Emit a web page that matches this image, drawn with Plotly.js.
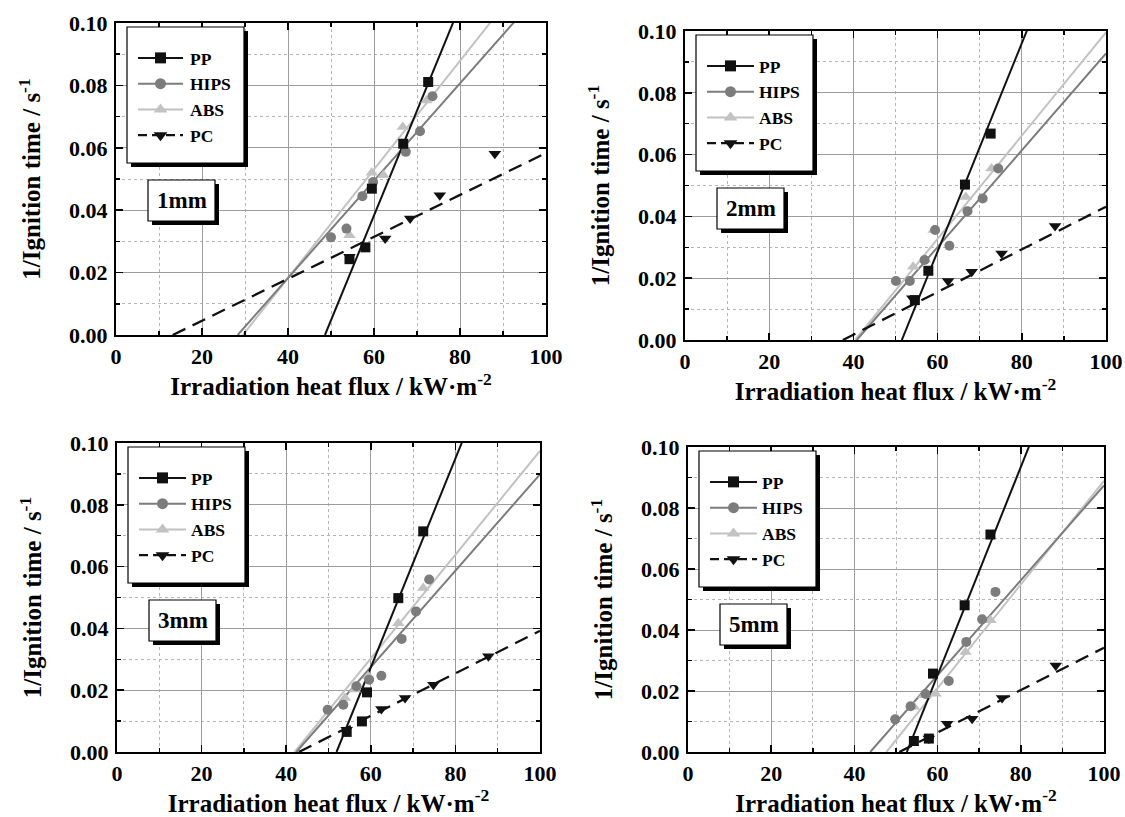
<!DOCTYPE html>
<html><head><meta charset="utf-8">
<script src="https://cdn.plot.ly/plotly-3.0.1.min.js"></script>
<style>html,body{margin:0;padding:0;background:#fff}</style>
</head><body><div id="chart" style="width:1125px;height:817px"></div>
<script>
// ---------- data ----------
const seriesNames = ['PP', 'HIPS', 'ABS', 'PC'];
const panelLabels = ['1mm', '2mm', '3mm', '5mm'];
const xTitle = 'Irradiation heat flux / kW·m<sup>-2</sup>';
const yTitle = '1/Ignition time / s<sup>-1</sup>';

// 1 mm
const pp1X = [54.3, 58.0, 59.5, 66.8, 72.6];
const pp1Y = [0.0243, 0.0281, 0.0469, 0.0613, 0.0811];
const hips1X = [50.0, 53.6, 57.3, 59.8, 67.4, 70.7, 73.6];
const hips1Y = [0.0313, 0.0341, 0.0445, 0.0490, 0.0587, 0.0653, 0.0765];
const abs1X = [54.3, 59.5, 62.2, 66.7, 72.2];
const abs1Y = [0.0320, 0.0520, 0.0512, 0.0667, 0.0752];
const pc1X = [54.3, 62.6, 68.4, 75.3, 88.1];
const pc1Y = [0.0251, 0.0309, 0.0373, 0.0448, 0.0581];
const fit1X0 = [48.6, 28.3, 29.5, 13.2];          // x-intercepts PP,HIPS,ABS,PC
const fit1K = [0.00336, 0.00156, 0.00174, 0.000672]; // slopes

// 2 mm
const pp2X = [54.6, 57.8, 66.5, 72.6];
const pp2Y = [0.0129, 0.0224, 0.0503, 0.0668];
const hips2X = [50.1, 53.4, 56.9, 59.4, 62.8, 67.1, 70.7, 74.4];
const hips2Y = [0.0191, 0.0191, 0.0259, 0.0356, 0.0305, 0.0417, 0.0458, 0.0555];
const abs2X = [54.2, 57.0, 59.1, 66.7, 72.8];
const abs2Y = [0.0237, 0.0260, 0.0356, 0.0463, 0.0555];
const pc2X = [54.0, 62.5, 68.1, 75.2, 87.9];
const pc2Y = [0.0135, 0.0191, 0.0221, 0.0280, 0.0369];
const fit2X0 = [51.5, 40.8, 40.4, 37.5];
const fit2K = [0.00337, 0.001566, 0.00167, 0.00069];

// 3 mm
const pp3X = [54.3, 57.9, 59.1, 66.5, 72.4];
const pp3Y = [0.0065, 0.0099, 0.0193, 0.0498, 0.0714];
const hips3X = [49.8, 53.5, 56.6, 59.6, 62.5, 67.3, 70.7, 73.8];
const hips3Y = [0.0137, 0.0153, 0.0213, 0.0234, 0.0247, 0.0366, 0.0455, 0.0558];
const abs3X = [53.9, 56.2, 59.4, 66.5, 72.4];
const abs3Y = [0.0175, 0.0202, 0.0245, 0.0417, 0.0531];
const pc3X = [54.3, 62.5, 68.1, 74.8, 87.8];
const pc3Y = [0.0072, 0.0139, 0.0175, 0.0218, 0.0310];
const fit3X0 = [51.9, 42.4, 42.0, 43.0];
const fit3K = [0.00338, 0.00156, 0.00168, 0.000688];

// 5 mm
const pp5X = [54.3, 57.9, 58.9, 66.5, 72.7];
const pp5Y = [0.0036, 0.0044, 0.0257, 0.0481, 0.0713];
const hips5X = [49.8, 53.5, 57.1, 62.7, 66.9, 70.7, 73.9];
const hips5Y = [0.0107, 0.0150, 0.0190, 0.0233, 0.0361, 0.0435, 0.0525];
const abs5X = [54.3, 56.7, 59.5, 66.7, 72.7];
const abs5Y = [0.0148, 0.0186, 0.0191, 0.0328, 0.0432];
const pc5X = [57.9, 62.3, 68.3, 75.5, 88.4];
const pc5Y = [0.0044, 0.0093, 0.0109, 0.0177, 0.0284];
const fit5X0 = [52.6, 43.8, 47.7, 50.8];
const fit5K = [0.00341, 0.001555, 0.00170, 0.000695];

// ---------- layout / styles ----------
const W = 1125, H = 817;
const FONT = 'Liberation Serif, Times New Roman, serif';
const styles = [
  {color: '#111111', symbol: 'square', size: 10, dash: 'solid', width: 2},
  {color: '#7c7c7c', symbol: 'circle', size: 10, dash: 'solid', width: 2},
  {color: '#c2c2c2', symbol: 'triangle-up', size: 11, dash: 'solid', width: 2},
  {color: '#111111', symbol: 'triangle-down', size: 11, dash: '14px,8px', width: 2.3}
];
// plot-area boxes in pixels: left, right, top, bottom
const boxes = [
  [116, 546, 23, 335],
  [685, 1106, 31, 340],
  [117, 540, 443, 752],
  [688, 1104, 447, 752]
];
const panels = [
  {pts: [[pp1X, pp1Y], [hips1X, hips1Y], [abs1X, abs1Y], [pc1X, pc1Y]], x0: fit1X0, k: fit1K},
  {pts: [[pp2X, pp2Y], [hips2X, hips2Y], [abs2X, abs2Y], [pc2X, pc2Y]], x0: fit2X0, k: fit2K},
  {pts: [[pp3X, pp3Y], [hips3X, hips3Y], [abs3X, abs3Y], [pc3X, pc3Y]], x0: fit3X0, k: fit3K},
  {pts: [[pp5X, pp5Y], [hips5X, hips5Y], [abs5X, abs5Y], [pc5X, pc5Y]], x0: fit5X0, k: fit5K}
];

const px = v => v / W, py = v => 1 - v / H;
const traces = [];
const layout = {
  width: W, height: H, margin: {l: 0, r: 0, t: 0, b: 0},
  paper_bgcolor: '#fff', plot_bgcolor: '#fff', showlegend: true,
  font: {family: FONT, color: '#000', weight: 'bold'},
  shapes: [], annotations: []
};

panels.forEach((p, i) => {
  const n = i === 0 ? '' : String(i + 1);
  const xa = 'x' + n, ya = 'y' + n;
  const lg = 'legend' + n;
  const b = boxes[i];
  // fit lines
  [2, 1, 0, 3].forEach(s => {
    const st = styles[s];
    const x0 = p.x0[s];
    const xs = [x0, 100];
    traces.push({
      x: xs, y: xs.map(x => p.k[s] * (x - x0)), xaxis: xa, yaxis: ya,
      mode: 'lines', line: {color: st.color, width: st.width, dash: st.dash},
      showlegend: false, hoverinfo: 'skip'
    });
  });
  // points
  [2, 1, 0, 3].forEach(s => {
    const st = styles[s];
    traces.push({
      x: p.pts[s][0], y: p.pts[s][1], xaxis: xa, yaxis: ya, mode: 'markers',
      marker: {symbol: st.symbol, size: st.size, color: st.color},
      showlegend: false, name: seriesNames[s]
    });
  });
  // legend entries
  seriesNames.forEach((nm, s) => {
    const st = styles[s];
    traces.push({
      x: [null], y: [null], xaxis: xa, yaxis: ya, mode: 'lines+markers', name: nm,
      legend: lg,
      line: {color: st.color, width: st.width, dash: s === 3 ? '9px,5px' : 'solid'},
      marker: {symbol: st.symbol, size: st.size + 1, color: st.color}
    });
  });

  const axCommon = {
    ticks: 'inside', ticklen: 7, tickwidth: 1.5, tickcolor: '#000',
    showline: true, linewidth: 2.2, linecolor: '#000', mirror: 'ticks',
    showgrid: true, gridcolor: '#9c9c9c', gridwidth: 1, zeroline: false,
    tickfont: {family: FONT, size: 22, color: '#000', weight: 'bold'},
    fixedrange: true
  };
  layout['xaxis' + n] = Object.assign({}, axCommon, {
    domain: [px(b[0]), px(b[1])], anchor: ya, range: [0, 100], tick0: 0, dtick: 20,
    ticklabelstandoff: 0,
    minor: {dtick: 10, ticks: 'inside', ticklen: 4, tickcolor: '#000', showgrid: true,
            gridcolor: '#b4b4b4', griddash: 'dot', gridwidth: 1},
    title: {text: xTitle, font: {family: FONT, size: 25, color: '#000', weight: 'bold'}, standoff: 2}
  });
  layout['yaxis' + n] = Object.assign({}, axCommon, {
    domain: [py(b[3]), py(b[2])], anchor: xa, range: [0, 0.1], tick0: 0, dtick: 0.02,
    tickformat: '.2f', ticklabelstandoff: 2,
    minor: {dtick: 0.01, ticks: 'inside', ticklen: 4, tickcolor: '#000', showgrid: true,
            gridcolor: '#b4b4b4', griddash: 'dot', gridwidth: 1},
    title: {text: yTitle, font: {family: FONT, size: 25, color: '#000', weight: 'bold'}, standoff: 21}
  });

  // legend box with shadow
  const lx = b[0] + 11, ly = b[2] + 4, lw = 117, lh = 136, sh = 4;
  layout.shapes.push({type: 'rect', xref: 'paper', yref: 'paper', layer: 'above',
    x0: px(lx + sh), x1: px(lx + lw + sh), y0: py(ly + lh + sh), y1: py(ly + sh),
    fillcolor: '#000', line: {width: 0}});
  layout.shapes.push({type: 'rect', xref: 'paper', yref: 'paper', layer: 'above',
    x0: px(lx), x1: px(lx + lw), y0: py(ly + lh), y1: py(ly),
    fillcolor: '#fff', line: {color: '#000', width: 1.2}});
  layout[lg] = {
    x: px(lx + 6), y: py(ly + 13), xanchor: 'left', yanchor: 'top',
    bgcolor: 'rgba(0,0,0,0)', borderwidth: 0, itemwidth: 47,
    font: {family: FONT, size: 17.5, color: '#000', weight: 'bold'},
    traceorder: 'normal', itemclick: false, itemdoubleclick: false
  };

  // thickness label with shadow
  const bx = b[0] + 32, by = b[2] + 157, bw = 67, bh = 41;
  layout.shapes.push({type: 'rect', xref: 'paper', yref: 'paper', layer: 'above',
    x0: px(bx + sh), x1: px(bx + bw + sh), y0: py(by + bh + sh), y1: py(by + sh),
    fillcolor: '#000', line: {width: 0}});
  layout.shapes.push({type: 'rect', xref: 'paper', yref: 'paper', layer: 'above',
    x0: px(bx), x1: px(bx + bw), y0: py(by + bh), y1: py(by),
    fillcolor: '#fff', line: {color: '#000', width: 1.2}});
  layout.annotations.push({xref: 'paper', yref: 'paper', x: px(bx + bw / 2), y: py(by + bh / 2),
    xanchor: 'center', yanchor: 'middle', showarrow: false, text: panelLabels[i],
    font: {family: FONT, size: 23, color: '#000', weight: 'bold'}});
});

Plotly.newPlot('chart', traces, layout, {staticPlot: true, displayModeBar: false}).then(gd => {
  // lengthen the legend sample lines to match the original's 45 px samples
  gd.querySelectorAll('.legend path.js-line').forEach(p => p.setAttribute('d', 'M5,0h45'));
  gd.querySelectorAll('.legend .legendpoints path.scatterpts').forEach(p =>
    p.setAttribute('transform', 'translate(27.5,0)'));
});
</script>
</body></html>
